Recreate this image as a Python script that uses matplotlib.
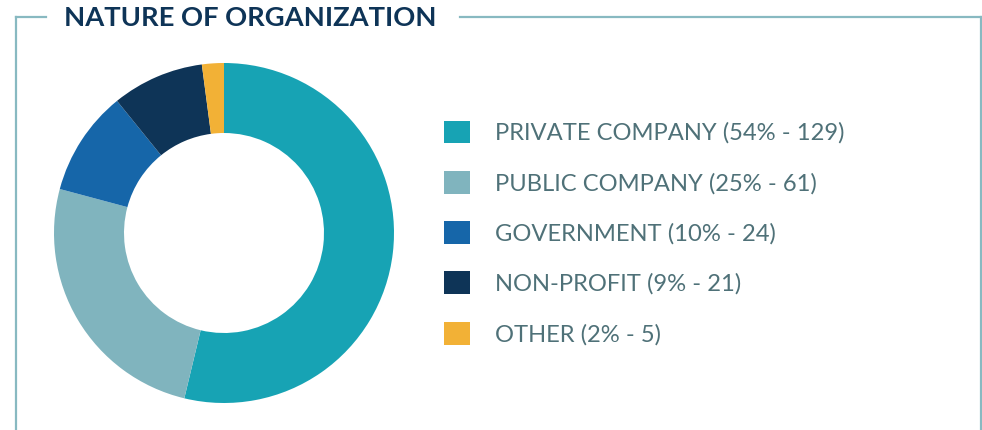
import matplotlib.pyplot as plt
from matplotlib.patches import Patch
from matplotlib.lines import Line2D

labels = ["PRIVATE COMPANY", "PUBLIC COMPANY", "GOVERNMENT", "NON-PROFIT", "OTHER"]
pcts = [54, 25, 10, 9, 2]
counts = [129, 61, 24, 21, 5]
colors = ["#17a3b4", "#80b4be", "#1666a9", "#0e3457", "#f2b136"]

plt.rcParams['font.family'] = ['Lato', 'DejaVu Sans']

W, H = 982, 430
fig = plt.figure(figsize=(W / 100, H / 100), dpi=100)

# frame around the panel, drawn in pixel coords
frame = "#88b9c1"
def px_line(xs, ys):
    fig.add_artist(Line2D([x / W for x in xs], [1 - y / H for y in ys],
                          color=frame, lw=1.6, transform=fig.transFigure))
px_line([16, 16], [17, 430])
px_line([16, 46], [17, 17])
px_line([460, 981], [17, 17])
px_line([981, 981], [17, 430])

fig.text(64 / W, 1 - 18 / H, "NATURE OF ORGANIZATION", fontsize=19.7,
         fontweight='bold', color="#0e3457", va='center', ha='left')

ax = fig.add_axes([54 / W, 27 / H, 340 / W, 340 / H])
ax.pie(counts, colors=colors, startangle=90, counterclock=False,
       wedgeprops=dict(width=70 / 170, linewidth=0))
ax.set_xlim(-1, 1)
ax.set_ylim(-1, 1)
ax.set_aspect('equal')

handles = [Patch(facecolor=c, edgecolor='none') for c in colors]
texts = [f"{l} ({p}% - {n})" for l, p, n in zip(labels, pcts, counts)]
leg = fig.legend(handles, texts, loc='upper left',
                 bbox_to_anchor=(434 / W, 1 - 111 / H), frameon=False,
                 fontsize=17.1, handlelength=1.1, handleheight=1.1,
                 handletextpad=1.05, labelspacing=1.13, borderaxespad=0)
for t in leg.get_texts():
    t.set_color("#4f7178")

fig.savefig("out.png", dpi=100)
